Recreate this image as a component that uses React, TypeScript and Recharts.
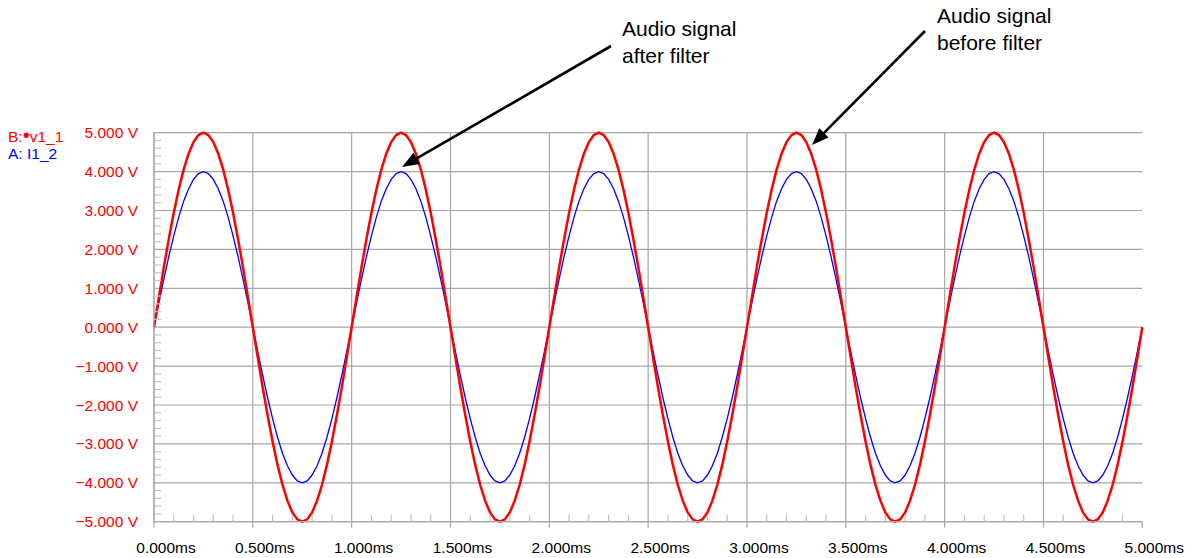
import React from 'react';
import { LineChart, Line, XAxis, YAxis, CartesianGrid } from 'recharts';

// sample times in ms (0.025 ms step)
const time = [
  0, 0.025, 0.05, 0.075, 0.1, 0.125, 0.15, 0.175, 0.2, 0.225, 0.25, 0.275, 0.3, 0.325, 0.35, 0.375, 0.4, 0.425, 0.45, 0.475,
  0.5, 0.525, 0.55, 0.575, 0.6, 0.625, 0.65, 0.675, 0.7, 0.725, 0.75, 0.775, 0.8, 0.825, 0.85, 0.875, 0.9, 0.925, 0.95, 0.975,
  1, 1.025, 1.05, 1.075, 1.1, 1.125, 1.15, 1.175, 1.2, 1.225, 1.25, 1.275, 1.3, 1.325, 1.35, 1.375, 1.4, 1.425, 1.45, 1.475,
  1.5, 1.525, 1.55, 1.575, 1.6, 1.625, 1.65, 1.675, 1.7, 1.725, 1.75, 1.775, 1.8, 1.825, 1.85, 1.875, 1.9, 1.925, 1.95, 1.975,
  2, 2.025, 2.05, 2.075, 2.1, 2.125, 2.15, 2.175, 2.2, 2.225, 2.25, 2.275, 2.3, 2.325, 2.35, 2.375, 2.4, 2.425, 2.45, 2.475,
  2.5, 2.525, 2.55, 2.575, 2.6, 2.625, 2.65, 2.675, 2.7, 2.725, 2.75, 2.775, 2.8, 2.825, 2.85, 2.875, 2.9, 2.925, 2.95, 2.975,
  3, 3.025, 3.05, 3.075, 3.1, 3.125, 3.15, 3.175, 3.2, 3.225, 3.25, 3.275, 3.3, 3.325, 3.35, 3.375, 3.4, 3.425, 3.45, 3.475,
  3.5, 3.525, 3.55, 3.575, 3.6, 3.625, 3.65, 3.675, 3.7, 3.725, 3.75, 3.775, 3.8, 3.825, 3.85, 3.875, 3.9, 3.925, 3.95, 3.975,
  4, 4.025, 4.05, 4.075, 4.1, 4.125, 4.15, 4.175, 4.2, 4.225, 4.25, 4.275, 4.3, 4.325, 4.35, 4.375, 4.4, 4.425, 4.45, 4.475,
  4.5, 4.525, 4.55, 4.575, 4.6, 4.625, 4.65, 4.675, 4.7, 4.725, 4.75, 4.775, 4.8, 4.825, 4.85, 4.875, 4.9, 4.925, 4.95, 4.975,
  5,
];

// B: v1_1 (before filter), volts
const v1_1 = [
  0, 0.78, 1.55, 2.27, 2.94, 3.54, 4.05, 4.46, 4.76, 4.94, 5, 4.94, 4.76, 4.46, 4.05, 3.54, 2.94, 2.27, 1.55, 0.78,
  0, -0.78, -1.55, -2.27, -2.94, -3.54, -4.05, -4.46, -4.76, -4.94, -5, -4.94, -4.76, -4.46, -4.05, -3.54, -2.94, -2.27, -1.55, -0.78,
  0, 0.78, 1.55, 2.27, 2.94, 3.54, 4.05, 4.46, 4.76, 4.94, 5, 4.94, 4.76, 4.46, 4.05, 3.54, 2.94, 2.27, 1.55, 0.78,
  0, -0.78, -1.55, -2.27, -2.94, -3.54, -4.05, -4.46, -4.76, -4.94, -5, -4.94, -4.76, -4.46, -4.05, -3.54, -2.94, -2.27, -1.55, -0.78,
  0, 0.78, 1.55, 2.27, 2.94, 3.54, 4.05, 4.46, 4.76, 4.94, 5, 4.94, 4.76, 4.46, 4.05, 3.54, 2.94, 2.27, 1.55, 0.78,
  0, -0.78, -1.55, -2.27, -2.94, -3.54, -4.05, -4.46, -4.76, -4.94, -5, -4.94, -4.76, -4.46, -4.05, -3.54, -2.94, -2.27, -1.55, -0.78,
  0, 0.78, 1.55, 2.27, 2.94, 3.54, 4.05, 4.46, 4.76, 4.94, 5, 4.94, 4.76, 4.46, 4.05, 3.54, 2.94, 2.27, 1.55, 0.78,
  0, -0.78, -1.55, -2.27, -2.94, -3.54, -4.05, -4.46, -4.76, -4.94, -5, -4.94, -4.76, -4.46, -4.05, -3.54, -2.94, -2.27, -1.55, -0.78,
  0, 0.78, 1.55, 2.27, 2.94, 3.54, 4.05, 4.46, 4.76, 4.94, 5, 4.94, 4.76, 4.46, 4.05, 3.54, 2.94, 2.27, 1.55, 0.78,
  0, -0.78, -1.55, -2.27, -2.94, -3.54, -4.05, -4.46, -4.76, -4.94, -5, -4.94, -4.76, -4.46, -4.05, -3.54, -2.94, -2.27, -1.55, -0.78,
  0,
];

// A: I1_2 (after filter)
const i1_2 = [
  0, 0.63, 1.24, 1.82, 2.35, 2.83, 3.24, 3.56, 3.8, 3.95, 4, 3.95, 3.8, 3.56, 3.24, 2.83, 2.35, 1.82, 1.24, 0.63,
  0, -0.63, -1.24, -1.82, -2.35, -2.83, -3.24, -3.56, -3.8, -3.95, -4, -3.95, -3.8, -3.56, -3.24, -2.83, -2.35, -1.82, -1.24, -0.63,
  0, 0.63, 1.24, 1.82, 2.35, 2.83, 3.24, 3.56, 3.8, 3.95, 4, 3.95, 3.8, 3.56, 3.24, 2.83, 2.35, 1.82, 1.24, 0.63,
  0, -0.63, -1.24, -1.82, -2.35, -2.83, -3.24, -3.56, -3.8, -3.95, -4, -3.95, -3.8, -3.56, -3.24, -2.83, -2.35, -1.82, -1.24, -0.63,
  0, 0.63, 1.24, 1.82, 2.35, 2.83, 3.24, 3.56, 3.8, 3.95, 4, 3.95, 3.8, 3.56, 3.24, 2.83, 2.35, 1.82, 1.24, 0.63,
  0, -0.63, -1.24, -1.82, -2.35, -2.83, -3.24, -3.56, -3.8, -3.95, -4, -3.95, -3.8, -3.56, -3.24, -2.83, -2.35, -1.82, -1.24, -0.63,
  0, 0.63, 1.24, 1.82, 2.35, 2.83, 3.24, 3.56, 3.8, 3.95, 4, 3.95, 3.8, 3.56, 3.24, 2.83, 2.35, 1.82, 1.24, 0.63,
  0, -0.63, -1.24, -1.82, -2.35, -2.83, -3.24, -3.56, -3.8, -3.95, -4, -3.95, -3.8, -3.56, -3.24, -2.83, -2.35, -1.82, -1.24, -0.63,
  0, 0.63, 1.24, 1.82, 2.35, 2.83, 3.24, 3.56, 3.8, 3.95, 4, 3.95, 3.8, 3.56, 3.24, 2.83, 2.35, 1.82, 1.24, 0.63,
  0, -0.63, -1.24, -1.82, -2.35, -2.83, -3.24, -3.56, -3.8, -3.95, -4, -3.95, -3.8, -3.56, -3.24, -2.83, -2.35, -1.82, -1.24, -0.63,
  0,
];

const xTicks = [0, 0.5, 1, 1.5, 2, 2.5, 3, 3.5, 4, 4.5, 5];
const yTicks = [-5, -4, -3, -2, -1, 0, 1, 2, 3, 4, 5];
const xMinor = [
  0.1, 0.2, 0.3, 0.4, 0.6, 0.7, 0.8, 0.9, 1.1, 1.2, 1.3, 1.4, 1.6, 1.7, 1.8, 1.9,
  2.1, 2.2, 2.3, 2.4, 2.6, 2.7, 2.8, 2.9, 3.1, 3.2, 3.3, 3.4, 3.6, 3.7, 3.8, 3.9,
  4.1, 4.2, 4.3, 4.4, 4.6, 4.7, 4.8, 4.9,
];
const yMinor = [
  -4.8, -4.6, -4.4, -4.2, -3.8, -3.6, -3.4, -3.2, -2.8, -2.6, -2.4, -2.2, -1.8, -1.6, -1.4, -1.2,
  -0.8, -0.6, -0.4, -0.2, 0.2, 0.4, 0.6, 0.8, 1.2, 1.4, 1.6, 1.8, 2.2, 2.4, 2.6, 2.8,
  3.2, 3.4, 3.6, 3.8, 4.2, 4.4, 4.6, 4.8,
];

const data = time.map((t, i) => ({ t, v1_1: v1_1[i], i1_2: i1_2[i] }));
const allX = [...xTicks, ...xMinor].sort((a, b) => a - b);
const allY = [...yTicks, ...yMinor].sort((a, b) => a - b);

const FONT = "Arial, 'Liberation Sans', Helvetica, sans-serif";
const GRID = '#a6a6a6';
const MINOR = '#c2c2c2';
const RED = '#ff0000';
const BLUE = '#0000ff';

const fmtV = (v: number) => (v < 0 ? '\u2212' : '') + Math.abs(v).toFixed(3) + ' V';
const fmtT = (v: number) => v.toFixed(3) + 'ms';

const XTick = ({ x, y, payload }: any) => {
  const v = payload.value;
  if (xTicks.includes(v)) {
    return (
      <g>
        <line x1={x} y1={y} x2={x} y2={y + 6} stroke={GRID} strokeWidth={1.2} />
        <text x={x + 12} y={y + 20} dy="0.71em" textAnchor="middle" fill="#000" fontSize={15.5} fontFamily={FONT}>
          {fmtT(v)}
        </text>
      </g>
    );
  }
  return <line x1={x} y1={y - 7} x2={x} y2={y} stroke={MINOR} strokeWidth={1.2} />;
};

const YTick = ({ x, y, payload }: any) => {
  const v = payload.value;
  if (yTicks.includes(v)) {
    return (
      <text x={x - 16} y={y} dy="0.355em" textAnchor="end" fill={RED} fontSize={15.5} fontFamily={FONT}>
        {fmtV(v)}
      </text>
    );
  }
  return <line x1={x} y1={y} x2={x + 7} y2={y} stroke={MINOR} strokeWidth={1.2} />;
};

const Arrow = ({ x1, y1, x2, y2 }: { x1: number; y1: number; x2: number; y2: number }) => {
  const dx = x2 - x1;
  const dy = y2 - y1;
  const len = Math.sqrt(dx * dx + dy * dy);
  const ux = dx / len;
  const uy = dy / len;
  const hl = 17;
  const hw = 6.5;
  const bx = x2 - ux * hl;
  const by = y2 - uy * hl;
  const pts = `${x2},${y2} ${bx - uy * hw},${by + ux * hw} ${bx + uy * hw},${by - ux * hw}`;
  return (
    <g>
      <line x1={x1} y1={y1} x2={bx + ux * 2} y2={by + uy * 2} stroke="#000" strokeWidth={2.6} />
      <polygon points={pts} fill="#000" />
    </g>
  );
};

export default function App() {
  return (
    <div style={{ position: 'absolute', left: 0, top: 0, width: 1192, height: 558, background: '#fff', fontFamily: FONT }}>
      <LineChart
        width={1192}
        height={558}
        data={data}
        margin={{ top: 132.7, right: 49.7, bottom: 0, left: 0 }}
      >
        <CartesianGrid
          stroke={GRID}
          strokeWidth={1.2}
          horizontalValues={yTicks}
          verticalValues={xTicks.filter((v) => v < 5)}
        />
        <XAxis
          dataKey="t"
          type="number"
          domain={[0, 5]}
          ticks={allX}
          height={36.3}
          tickSize={0}
          tickMargin={0}
          axisLine={{ stroke: GRID, strokeWidth: 1.2 }}
          tickLine={false}
          tick={<XTick />}
          interval={0}
        />
        <YAxis
          type="number"
          domain={[-5, 5]}
          ticks={allY}
          width={154}
          tickSize={0}
          tickMargin={0}
          axisLine={{ stroke: GRID, strokeWidth: 1.2 }}
          tickLine={false}
          tick={<YTick />}
          interval={0}
        />
        <Line
          type="linear"
          dataKey="i1_2"
          stroke={BLUE}
          strokeWidth={1.3}
          dot={false}
          isAnimationActive={false}
        />
        <Line
          type="linear"
          dataKey="v1_1"
          stroke={RED}
          strokeWidth={2.5}
          dot={false}
          isAnimationActive={false}
        />
      </LineChart>
      <svg
        width={1192}
        height={558}
        style={{ position: 'absolute', left: 0, top: 0, pointerEvents: 'none' }}
      >
        <text x={8} y={141.7} fill={RED} fontSize={15.5} fontFamily={FONT}>
          B:<tspan fontSize={20}>{'\u2022'}</tspan>v1_1
        </text>
        <text x={8} y={159} fill={BLUE} fontSize={15.5} fontFamily={FONT}>A: I1_2</text>
        <text x={622} y={36} fontSize={21} fontFamily={FONT} fill="#000">Audio signal</text>
        <text x={622} y={63} fontSize={21} fontFamily={FONT} fill="#000">after filter</text>
        <text x={937} y={23} fontSize={21} fontFamily={FONT} fill="#000">Audio signal</text>
        <text x={937} y={49.5} fontSize={21} fontFamily={FONT} fill="#000">before filter</text>
        <Arrow x1={611} y1={46} x2={402} y2={167} />
        <Arrow x1={925} y1={31} x2={812} y2={145} />
      </svg>
    </div>
  );
}
